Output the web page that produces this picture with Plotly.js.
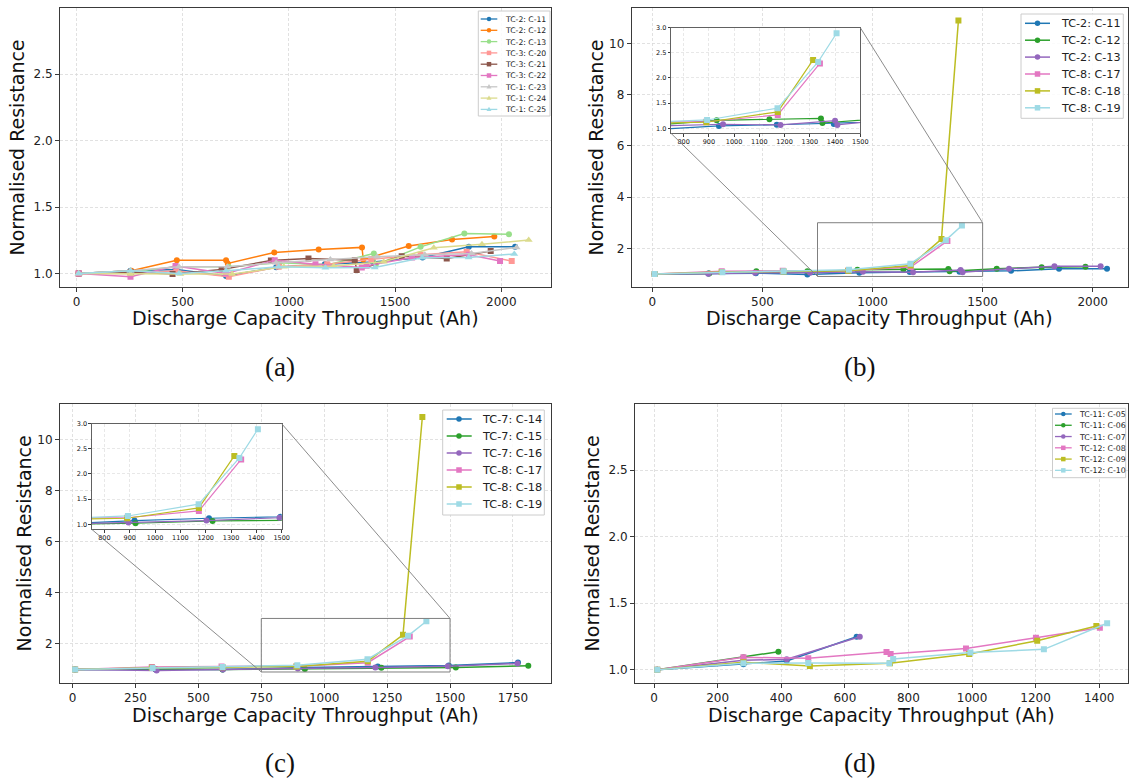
<!DOCTYPE html>
<html><head><meta charset="utf-8">
<script src="https://cdn.plot.ly/plotly-3.0.1.min.js"></script>
<style>html,body{margin:0;padding:0;background:#fff;}#chart{width:1129px;height:783px;}</style>
</head><body><div id="chart"></div>
<script>
// ================= DATA =================
// cells: discharge capacity throughput (Ah) and normalised resistance
const C05_x = [10, 281, 417, 637];
const C05_y = [1.0, 1.04, 1.065, 1.248];
const C06_x = [10, 281, 391];
const C06_y = [1.0, 1.093, 1.135];
const C07_x = [10, 281, 417, 647];
const C07_y = [1.0, 1.07, 1.078, 1.248];
const C08_x = [10, 281, 485, 731, 744, 981, 1201, 1402];
const C08_y = [1.0, 1.093, 1.085, 1.133, 1.118, 1.16, 1.24, 1.316];
const C09_x = [10, 281, 490, 742, 991, 1205, 1391];
const C09_y = [1.0, 1.055, 1.028, 1.048, 1.118, 1.218, 1.329];
const C10_x = [10, 281, 485, 740, 752, 995, 1226, 1425];
const C10_y = [1.0, 1.048, 1.05, 1.048, 1.08, 1.13, 1.153, 1.349];

const C11_x = [10, 254, 470, 704, 940, 1169, 1395, 1629, 1847, 2065];
const C11_y = [1.0, 1.02, 1.03, 0.98, 1.046, 1.07, 1.086, 1.12, 1.20, 1.20];
const C12_x = [10, 258, 472, 704, 712, 931, 1140, 1344, 1350, 1564, 1768, 1967];
const C12_y = [1.0, 1.02, 1.10, 1.10, 1.075, 1.158, 1.181, 1.196, 1.105, 1.206, 1.256, 1.279];
const C13_x = [10, 254, 466, 716, 956, 1184, 1400, 1409, 1620, 1826, 2036];
const C13_y = [1.0, 1.01, 1.05, 1.05, 1.08, 1.066, 1.15, 1.066, 1.20, 1.30, 1.295];

const C14_x = [10, 330, 597, 919, 1213, 1495, 1770];
const C14_y = [1.0, 1.0, 1.0, 1.073, 1.12, 1.15, 1.27];
const C15_x = [10, 330, 596, 923, 1227, 1523, 1811];
const C15_y = [1.0, 1.02, 1.0, 1.02, 1.066, 1.08, 1.14];
const C16_x = [10, 334, 597, 895, 1203, 1491, 1768];
const C16_y = [1.0, 0.96, 1.0, 1.033, 1.073, 1.13, 1.23];
const C17_x = [10, 315, 592, 890, 1173, 1340];
const C17_y = [1.0, 1.10, 1.12, 1.13, 1.265, 2.29];
const C18_x = [10, 315, 596, 890, 1173, 1313, 1390];
const C18_y = [1.0, 1.07, 1.09, 1.12, 1.325, 2.36, 10.9];
const C19_x = [10, 318, 596, 893, 1172, 1333, 1406];
const C19_y = [1.0, 1.06, 1.10, 1.165, 1.40, 2.32, 2.89];

const C20_x = [10, 258, 470, 717, 952, 1180, 1388, 1620, 1837, 2049];
const C20_y = [1.0, 1.0, 1.02, 0.975, 1.05, 1.07, 1.106, 1.14, 1.163, 1.093];
const C21_x = [10, 255, 452, 683, 915, 1092, 1310, 1319, 1531, 1743, 1950];
const C21_y = [1.0, 1.01, 0.995, 1.03, 1.097, 1.113, 1.10, 1.025, 1.13, 1.113, 1.168];
const C22_x = [10, 254, 466, 704, 933, 1125, 1343, 1366, 1580, 1847, 1994];
const C22_y = [1.0, 0.975, 1.055, 1.0, 1.10, 1.07, 1.045, 1.057, 1.12, 1.14, 1.093];
const C23_x = [10, 254, 482, 710, 940, 1195, 1415, 1640, 1860, 2072];
const C23_y = [1.0, 1.02, 1.05, 1.05, 1.08, 1.105, 1.126, 1.14, 1.15, 1.196];
const C24_x = [10, 254, 489, 733, 976, 1211, 1446, 1682, 1909, 2129];
const C24_y = [1.0, 0.995, 0.995, 0.995, 1.05, 1.055, 1.088, 1.193, 1.219, 1.251];
const C25_x = [10, 254, 482, 704, 952, 1172, 1404, 1627, 1846, 2061];
const C25_y = [1.0, 1.02, 1.0, 1.02, 1.05, 1.043, 1.045, 1.118, 1.12, 1.146];

// series labels per panel
const labelsA = ['TC-2: C-11','TC-2: C-12','TC-2: C-13','TC-3: C-20','TC-3: C-21','TC-3: C-22','TC-1: C-23','TC-1: C-24','TC-1: C-25'];
const labelsB = ['TC-2: C-11','TC-2: C-12','TC-2: C-13','TC-8: C-17','TC-8: C-18','TC-8: C-19'];
const labelsC = ['TC-7: C-14','TC-7: C-15','TC-7: C-16','TC-8: C-17','TC-8: C-18','TC-8: C-19'];
const labelsD = ['TC-11: C-05','TC-11: C-06','TC-11: C-07','TC-12: C-08','TC-12: C-09','TC-12: C-10'];

// tick values
const ticksAx = [0, 500, 1000, 1500, 2000];
const ticksAy = [1.0, 1.5, 2.0, 2.5];
const ticksBx = [0, 500, 1000, 1500, 2000];
const ticksBy = [2, 4, 6, 8, 10];
const ticksCx = [0, 250, 500, 750, 1000, 1250, 1500, 1750];
const ticksCy = [2, 4, 6, 8, 10];
const ticksDx = [0, 200, 400, 600, 800, 1000, 1200, 1400];
const ticksDy = [1.0, 1.5, 2.0, 2.5];
const ticksInsetX = [800, 900, 1000, 1100, 1200, 1300, 1400, 1500];
const ticksInsetY = [1.0, 1.5, 2.0, 2.5, 3.0];
const INSET_X = [750, 1500];
const INSET_Y = [0.9, 3.0];

// ================= STYLE / LAYOUT =================
const W = 1129, H = 783;
const pxX = v => v / W, pxY = v => 1 - v / H;
const FONT = 'DejaVu Sans, Verdana, sans-serif';
const SYM = {o: 'circle', s: 'square', '^': 'triangle-up'};

const seriesA = [
  [C11_x, C11_y, '#1f77b4', 'o'], [C12_x, C12_y, '#ff7f0e', 'o'], [C13_x, C13_y, '#98df8a', 'o'],
  [C20_x, C20_y, '#ff9896', 's'], [C21_x, C21_y, '#8c564b', 's'], [C22_x, C22_y, '#e377c2', 's'],
  [C23_x, C23_y, '#c7c7c7', '^'], [C24_x, C24_y, '#dbdb8d', '^'], [C25_x, C25_y, '#9edae5', '^']];
const seriesB = [
  [C11_x, C11_y, '#1f77b4', 'o'], [C12_x, C12_y, '#2ca02c', 'o'], [C13_x, C13_y, '#9467bd', 'o'],
  [C17_x, C17_y, '#e377c2', 's'], [C18_x, C18_y, '#bcbd22', 's'], [C19_x, C19_y, '#9edae5', 's']];
const seriesC = [
  [C14_x, C14_y, '#1f77b4', 'o'], [C15_x, C15_y, '#2ca02c', 'o'], [C16_x, C16_y, '#9467bd', 'o'],
  [C17_x, C17_y, '#e377c2', 's'], [C18_x, C18_y, '#bcbd22', 's'], [C19_x, C19_y, '#9edae5', 's']];
const seriesD = [
  [C05_x, C05_y, '#1f77b4', 'o'], [C06_x, C06_y, '#2ca02c', 'o'], [C07_x, C07_y, '#9467bd', 'o'],
  [C08_x, C08_y, '#e377c2', 's'], [C09_x, C09_y, '#bcbd22', 's'], [C10_x, C10_y, '#9edae5', 's']];

const DOM = {
  a:  {x: [pxX(60), pxX(551)],     y: [pxY(286.7), pxY(8.3)]},
  b:  {x: [pxX(631.7), pxX(1127.5)], y: [pxY(286.7), pxY(8.3)]},
  c:  {x: [pxX(60), pxX(550.7)],   y: [pxY(682.7), pxY(404)]},
  d:  {x: [pxX(635), pxX(1127.5)], y: [pxY(682.7), pxY(404)]},
  bi: {x: [pxX(671), pxX(860.3)],  y: [pxY(133.3), pxY(27.7)]},
  ci: {x: [pxX(91.7), pxX(281.7)], y: [pxY(529.3), pxY(423.7)]}
};
const RNG = {
  a: {x: [-78, 2234], y: [0.9, 2.997]},
  b: {x: [-94, 2158], y: [0.5, 11.38]},
  c: {x: [-50, 1900], y: [0.48, 11.41]},
  d: {x: [-60, 1489], y: [0.902, 2.998]}
};

const data = [];
function addTraces(series, xa, ya, msize, lw, ymax) {
  series.forEach(s => {
    const sym = SYM[s[3]];
    let xs = s[0], ys = s[1];
    if (ymax !== undefined) {           // inset: only the points inside the zoomed window
      const keep = ys.map(v => v <= ymax);
      xs = xs.filter((_, i) => keep[i]);
      ys = ys.filter((_, i) => keep[i]);
    }
    data.push({
      type: 'scatter', mode: 'lines+markers', x: xs, y: ys, xaxis: xa, yaxis: ya,
      line: {color: s[2], width: lw},
      marker: {color: s[2], symbol: sym, size: sym === 'triangle-up' ? msize + 1 : msize, line: {width: 0}},
      showlegend: false, hoverinfo: 'skip'
    });
  });
}
addTraces(seriesA, 'x', 'y', 6, 1.5);
addTraces(seriesB, 'x2', 'y2', 6, 1.5);
addTraces(seriesC, 'x3', 'y3', 6, 1.5);
addTraces(seriesD, 'x4', 'y4', 6, 1.5);
addTraces(seriesB, 'x5', 'y5', 6, 1.2, INSET_Y[1]);
addTraces(seriesC, 'x6', 'y6', 6, 1.2, INSET_Y[1]);

function axis(domain, anchor, range, tickvals, extra) {
  return Object.assign({
    domain: domain, anchor: anchor, range: range, tickvals: tickvals,
    showline: true, mirror: true, linecolor: '#3a3a3a', linewidth: 1,
    ticks: 'outside', ticklen: 4, tickwidth: 1, tickcolor: '#3a3a3a',
    showgrid: true, gridcolor: '#d9d9d9', griddash: '3px,2px', gridwidth: 0.8,
    zeroline: false, tickfont: {family: FONT, size: 12, color: '#222'},
    fixedrange: true, automargin: false
  }, extra || {});
}
const YT = s => ({text: 'Normalised Resistance', font: {family: FONT, size: 19, color: '#111'}, standoff: s});
const insetExtra = {linewidth: 0.8, ticklen: 2.5, tickfont: {family: FONT, size: 6.5, color: '#111'}, gridwidth: 0.6};

const layout = {
  width: W, height: H, margin: {l: 0, r: 0, t: 0, b: 0},
  paper_bgcolor: '#fff', plot_bgcolor: '#fff', showlegend: false,
  xaxis:  axis(DOM.a.x, 'y',  RNG.a.x, ticksAx),
  yaxis:  axis(DOM.a.y, 'x',  RNG.a.y, ticksAy, {title: YT(3), tickformat: '.1f'}),
  xaxis2: axis(DOM.b.x, 'y2', RNG.b.x, ticksBx),
  yaxis2: axis(DOM.b.y, 'x2', RNG.b.y, ticksBy, {title: YT(0)}),
  xaxis3: axis(DOM.c.x, 'y3', RNG.c.x, ticksCx),
  yaxis3: axis(DOM.c.y, 'x3', RNG.c.y, ticksCy, {title: YT(0)}),
  xaxis4: axis(DOM.d.x, 'y4', RNG.d.x, ticksDx),
  yaxis4: axis(DOM.d.y, 'x4', RNG.d.y, ticksDy, {title: YT(3), tickformat: '.1f'}),
  xaxis5: axis(DOM.bi.x, 'y5', INSET_X, ticksInsetX, insetExtra),
  yaxis5: axis(DOM.bi.y, 'x5', INSET_Y, ticksInsetY, Object.assign({tickformat: '.1f'}, insetExtra)),
  xaxis6: axis(DOM.ci.x, 'y6', INSET_X, ticksInsetX, insetExtra),
  yaxis6: axis(DOM.ci.y, 'x6', INSET_Y, ticksInsetY, Object.assign({tickformat: '.1f'}, insetExtra)),
  shapes: [], annotations: []
};

// x-axis titles, centred under each panel
[[DOM.a, 318], [DOM.b, 318], [DOM.c, 714.5], [DOM.d, 714.5]].forEach(t => {
  layout.annotations.push({xref: 'paper', yref: 'paper', x: (t[0].x[0] + t[0].x[1]) / 2, y: pxY(t[1]),
    xanchor: 'center', yanchor: 'middle', showarrow: false, text: 'Discharge Capacity Throughput (Ah)',
    font: {family: FONT, size: 19, color: '#111'}});
});

// zoom rectangles + connectors
function toPaper(dom, range, v) { return dom[0] + (v - range[0]) / (range[1] - range[0]) * (dom[1] - dom[0]); }
function zoomMarks(mainDom, mainRng, insetDom, xr, yr) {
  const grey = '#7f7f7f';
  layout.shapes.push({type: 'rect', xref: xr, yref: yr, x0: INSET_X[0], x1: INSET_X[1], y0: INSET_Y[0], y1: INSET_Y[1],
    line: {color: grey, width: 1}, fillcolor: 'rgba(0,0,0,0)', layer: 'above'});
  layout.shapes.push({type: 'line', xref: 'paper', yref: 'paper',
    x0: insetDom.x[1], y0: insetDom.y[1],
    x1: toPaper(mainDom.x, mainRng.x, INSET_X[1]), y1: toPaper(mainDom.y, mainRng.y, INSET_Y[1]),
    line: {color: grey, width: 0.9}, layer: 'above'});
  layout.shapes.push({type: 'line', xref: 'paper', yref: 'paper',
    x0: insetDom.x[0], y0: insetDom.y[0],
    x1: toPaper(mainDom.x, mainRng.x, INSET_X[0]), y1: toPaper(mainDom.y, mainRng.y, INSET_Y[0]),
    line: {color: grey, width: 0.9}, layer: 'above'});
}
zoomMarks(DOM.b, RNG.b, DOM.bi, 'x2', 'y2');
zoomMarks(DOM.c, RNG.c, DOM.ci, 'x3', 'y3');

// legends (drawn as shapes + text, matplotlib style)
function legend(series, labels, g) {
  layout.shapes.push({type: 'rect', xref: 'paper', yref: 'paper',
    x0: pxX(g.box[0]), x1: pxX(g.box[2]), y0: pxY(g.box[3]), y1: pxY(g.box[1]),
    fillcolor: 'rgba(255,255,255,0.85)', line: {color: '#cccccc', width: 1}, layer: 'above'});
  series.forEach((s, i) => {
    const yy = g.row0 + i * g.step, col = s[2], r = g.ms / 2, m = g.mx;
    layout.shapes.push({type: 'line', xref: 'paper', yref: 'paper',
      x0: pxX(g.line[0]), x1: pxX(g.line[1]), y0: pxY(yy), y1: pxY(yy),
      line: {color: col, width: g.lw}, layer: 'above'});
    if (s[3] === 'o') {
      layout.shapes.push({type: 'circle', xref: 'paper', yref: 'paper',
        x0: pxX(m - r), x1: pxX(m + r), y0: pxY(yy + r), y1: pxY(yy - r),
        fillcolor: col, line: {width: 0}, layer: 'above'});
    } else if (s[3] === 's') {
      layout.shapes.push({type: 'rect', xref: 'paper', yref: 'paper',
        x0: pxX(m - r), x1: pxX(m + r), y0: pxY(yy + r), y1: pxY(yy - r),
        fillcolor: col, line: {width: 0}, layer: 'above'});
    } else {
      const p = `M ${pxX(m)},${pxY(yy - r * 1.2)} L ${pxX(m + r * 1.1)},${pxY(yy + r * 0.75)} L ${pxX(m - r * 1.1)},${pxY(yy + r * 0.75)} Z`;
      layout.shapes.push({type: 'path', xref: 'paper', yref: 'paper', path: p,
        fillcolor: col, line: {width: 0}, layer: 'above'});
    }
    layout.annotations.push({xref: 'paper', yref: 'paper', x: pxX(g.tx), y: pxY(yy + 0.5),
      xanchor: 'left', yanchor: 'middle', showarrow: false, text: labels[i],
      font: {family: FONT, size: g.fs, color: '#222'}});
  });
}
legend(seriesA, labelsA, {box: [478.3, 11, 550, 116], row0: 19, step: 11.3, line: [480.7, 497.3], mx: 489, tx: 502.5, fs: 7.7, ms: 4.5, lw: 1.3});
legend(seriesB, labelsB, {box: [1021, 14, 1123.3, 118.3], row0: 23.3, step: 16.9, line: [1025, 1050], mx: 1037.5, tx: 1058.5, fs: 11.2, ms: 5.5, lw: 1.5});
legend(seriesC, labelsC, {box: [442.7, 410, 544.3, 515], row0: 419, step: 17, line: [446.7, 471.7], mx: 459, tx: 479.5, fs: 11.3, ms: 5.5, lw: 1.5});
legend(seriesD, labelsD, {box: [1052.5, 408.3, 1125.7, 477.7], row0: 414, step: 11.27, line: [1055, 1071.7], mx: 1063.3, tx: 1076.5, fs: 7.8, ms: 4.5, lw: 1.3});

// panel captions
[['(a)', 280, 367], ['(b)', 859, 367], ['(c)', 280, 763], ['(d)', 859, 763]].forEach(c => {
  layout.annotations.push({xref: 'paper', yref: 'paper', x: pxX(c[1]), y: pxY(c[2]), xanchor: 'center', yanchor: 'middle',
    showarrow: false, text: c[0], font: {family: 'Liberation Serif, DejaVu Serif, serif', size: 27, color: '#111'}});
});

Plotly.newPlot('chart', data, layout, {staticPlot: true, displayModeBar: false});
</script>
</body></html>
